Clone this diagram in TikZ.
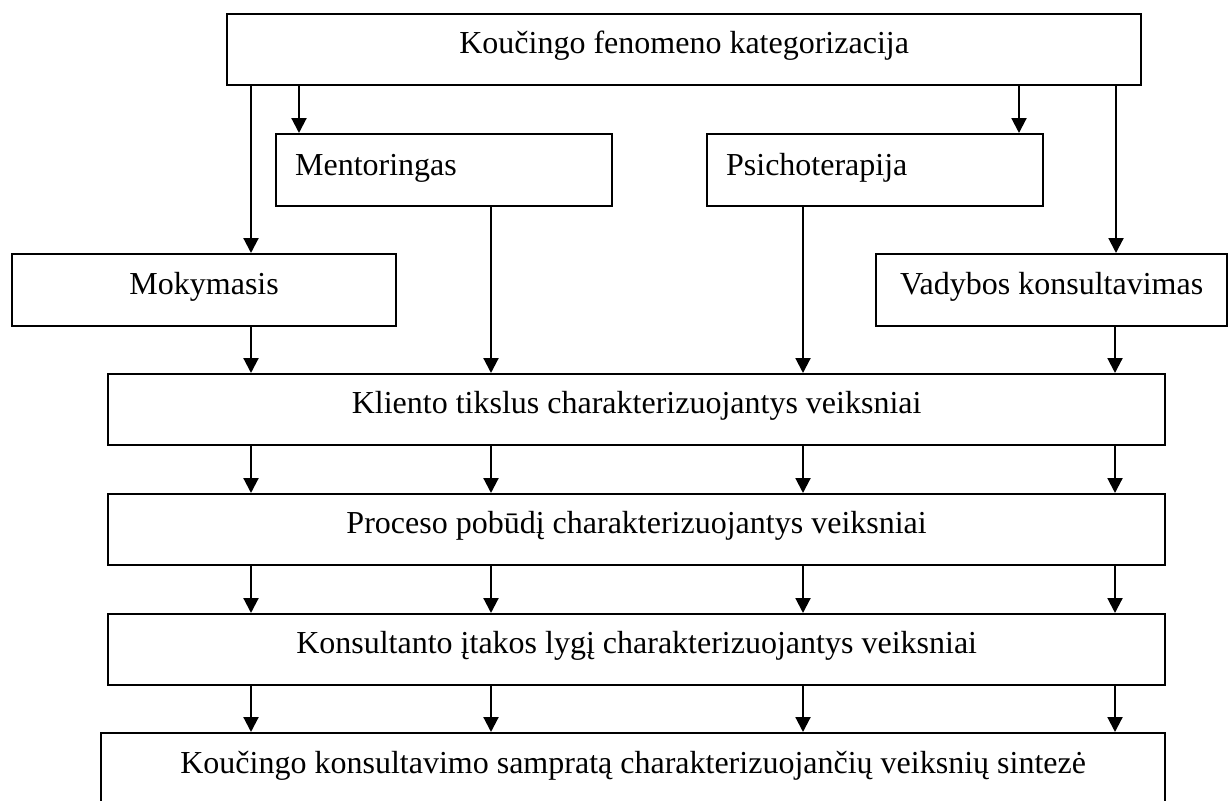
\documentclass[tikz,border=0pt]{standalone}
\usepackage{fontspec}
\setmainfont{Liberation Serif}
\usetikzlibrary{arrows.meta}
\begin{document}
\begin{tikzpicture}[x=0.375pt,y=-0.375pt,
  box/.style={draw, line width=0.85pt, anchor=north west, inner xsep=0pt, inner ysep=0pt,
    font=\fontsize{12}{14}\selectfont, text height=14.625pt, text depth=12pt},
  leftbox/.style={box, text width=111.75pt, align=left, inner xsep=7.125pt,
    text height=15.375pt, text depth=11.625pt},
  arr/.style={-{Triangle[length=5.6pt,width=5.6pt]}, line width=0.8pt}]
\clip (0,0) rectangle (1231,801);
% boxes
\node[box, minimum width=342.75pt] (top) at (226,13) {Koučingo fenomeno kategorizacija};
\node[leftbox] (men) at (275,133) {Mentoringas};
\node[leftbox] (psi) at (706,133) {Psichoterapija};
\node[box, minimum width=144pt, text height=15pt, text depth=12pt] (mok) at (11,253) {Mokymasis};
\node[box, minimum width=131.625pt, text height=15pt, text depth=12pt] (vad) at (875,253) {Vadybos konsultavimas};
\node[box, minimum width=396.375pt] (kli) at (107,373) {Kliento tikslus charakterizuojantys veiksniai};
\node[box, minimum width=396.375pt] (pro) at (107,493) {Proceso pobūdį charakterizuojantys veiksniai};
\node[box, minimum width=396.375pt] (kon) at (107,613) {Konsultanto įtakos lygį charakterizuojantys veiksniai};
\node[box, minimum width=399pt, text height=15pt, text depth=22.5pt] (sin) at (100,732) {Koučingo konsultavimo sampratą charakterizuojančių veiksnių sintezė};
% x positions of connectors
\coordinate (xa) at (251,0);
\coordinate (xb) at (299,0);
\coordinate (xc) at (1019,0);
\coordinate (xd) at (1116,0);
\coordinate (xm) at (491,0);
\coordinate (xp) at (803,0);
\coordinate (xv) at (1115,0);
% connectors from the top box
\draw[arr] (top.south -| xa) -- (mok.north -| xa);
\draw[arr] (top.south -| xb) -- (men.north -| xb);
\draw[arr] (top.south -| xc) -- (psi.north -| xc);
\draw[arr] (top.south -| xd) -- (vad.north -| xd);
% into the client box
\draw[arr] (mok.south -| xa) -- (kli.north -| xa);
\draw[arr] (men.south -| xm) -- (kli.north -| xm);
\draw[arr] (psi.south -| xp) -- (kli.north -| xp);
\draw[arr] (vad.south -| xv) -- (kli.north -| xv);
% between the wide boxes
\foreach \c in {xa,xm,xp,xv}{
  \draw[arr] (kli.south -| \c) -- (pro.north -| \c);
  \draw[arr] (pro.south -| \c) -- (kon.north -| \c);
  \draw[arr] (kon.south -| \c) -- (sin.north -| \c);
}
\end{tikzpicture}
\end{document}
